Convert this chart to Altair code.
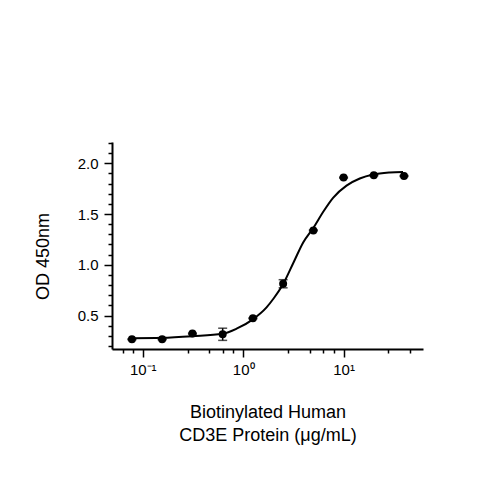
import altair as alt
import pandas as pd

# measured points (mean, sd)
conc = [0.078, 0.156, 0.3125, 0.625, 1.25, 2.5, 5, 10, 20, 40]
od = [0.266, 0.266, 0.322, 0.315, 0.473, 0.813, 1.339, 1.859, 1.882, 1.875]
sd = [0.005, 0.005, 0.005, 0.06, 0.005, 0.04, 0.005, 0.005, 0.005, 0.005]

# fitted curve
fit_conc = [0.0776, 0.154, 0.311, 0.624, 0.86, 1.24, 1.71, 2.0, 2.47, 3.2,
            3.96, 5.05, 6.25, 7.86, 10.7, 14.5, 19.7, 28.8, 39.1]
fit_od = [0.276, 0.28, 0.296, 0.32, 0.37, 0.46, 0.58, 0.665, 0.80, 1.03,
          1.22, 1.37, 1.52, 1.66, 1.78, 1.85, 1.89, 1.91, 1.915]

x_major = [0.1, 1, 10]
x_labels = ["10⁻¹", "10⁰", "10¹"]
x_minor = [0.064, 0.08, 0.28, 0.46, 0.63, 0.8, 2.8, 4.6, 6.3, 8, 28, 46]
y_major = [0.5, 1.0, 1.5, 2.0]
y_minor = [0.2, 0.3, 0.4, 0.6, 0.7, 0.8, 0.9, 1.1, 1.2, 1.3, 1.4,
           1.6, 1.7, 1.8, 1.9, 2.1, 2.2]

FONT = "Liberation Sans"

points = pd.DataFrame({"conc": conc, "od": od, "sd": sd})
points["lo"] = points["od"] - points["sd"]
points["hi"] = points["od"] + points["sd"]
fit = pd.DataFrame({"conc": fit_conc, "od": fit_od})

xscale = alt.Scale(type="log", domain=[0.0494, 61.8], nice=False)
yscale = alt.Scale(domain=[0.17, 2.21], nice=False, zero=False)

label_expr = " : ".join(
    f"datum.value == {v} ? '{t}'" for v, t in zip(x_major, x_labels)
) + " : ''"

x_axis = alt.Axis(
    values=x_major, labelExpr=label_expr, tickSize=8, labelPadding=5,
    title=["Biotinylated Human", "CD3E Protein (μg/mL)"],
    titleY=68, titleBaseline="alphabetic", titleLineHeight=23.5,
    orient="bottom", grid=False,
)
y_axis = alt.Axis(
    values=y_major, format=".1f", tickSize=8, labelPadding=6,
    title="OD 450nm", titleX=-64, titleY=114, titleBaseline="alphabetic",
    orient="left", grid=False,
)

curve = alt.Chart(fit).mark_line(
    color="black", strokeWidth=2, interpolate="monotone"
).encode(
    x=alt.X("conc:Q", scale=xscale, axis=x_axis),
    y=alt.Y("od:Q", scale=yscale, axis=y_axis),
)

bars = alt.Chart(points).mark_rule(color="black", strokeWidth=1.5).encode(
    x=alt.X("conc:Q", scale=xscale, axis=None),
    y=alt.Y("lo:Q", scale=yscale, axis=None),
    y2="hi:Q",
)
caps_lo = alt.Chart(points).mark_tick(
    color="black", orient="horizontal", size=9, thickness=1.5
).encode(
    x=alt.X("conc:Q", scale=xscale, axis=None),
    y=alt.Y("lo:Q", scale=yscale, axis=None),
)
caps_hi = alt.Chart(points).mark_tick(
    color="black", orient="horizontal", size=9, thickness=1.5
).encode(
    x=alt.X("conc:Q", scale=xscale, axis=None),
    y=alt.Y("hi:Q", scale=yscale, axis=None),
)

dots = alt.Chart(points).mark_circle(color="black", size=64, opacity=1).encode(
    x=alt.X("conc:Q", scale=xscale, axis=None),
    y=alt.Y("od:Q", scale=yscale, axis=None),
)

# invisible layer that only carries the minor-tick axes
minor = alt.Chart(points).mark_point(opacity=0).encode(
    x=alt.X("conc:Q", scale=xscale, axis=alt.Axis(
        values=x_minor, labels=False, tickSize=4, domain=False,
        title=None, orient="bottom", grid=False)),
    y=alt.Y("od:Q", scale=yscale, axis=alt.Axis(
        values=y_minor, labels=False, tickSize=4, domain=False,
        title=None, orient="left", grid=False)),
)

chart = alt.layer(curve, bars, caps_lo, caps_hi, dots, minor).resolve_axis(
    x="independent", y="independent"
).properties(
    width=311, height=207,
    autosize=alt.AutoSizeParams(type="none"),
    padding={"left": 104, "top": 134, "right": 60, "bottom": 140},
).configure_view(stroke=None).configure_axis(
    domainColor="black", domainWidth=2, tickColor="black", tickWidth=1.5,
    labelColor="black", labelFont=FONT, labelFontSize=15,
    titleColor="black", titleFont=FONT, titleFontSize=18,
    titleFontWeight="normal",
)

chart.save("out.html", embed_options={"renderer": "svg", "actions": False})
